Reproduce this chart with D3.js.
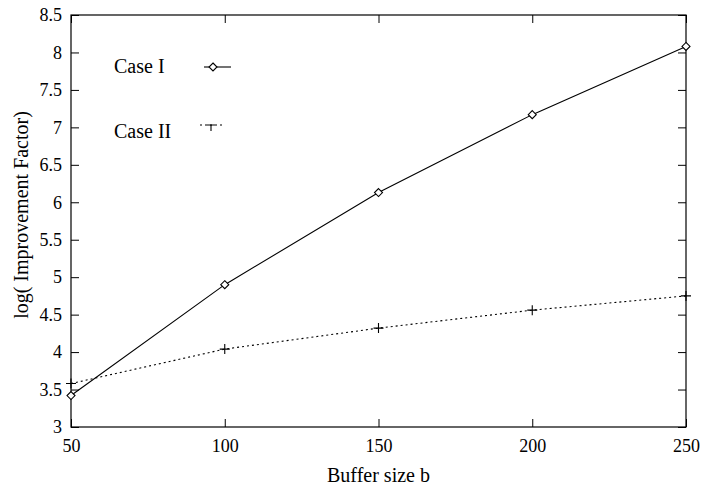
<!DOCTYPE html>
<html>
<head>
<meta charset="utf-8">
<script src="https://d3js.org/d3.v7.min.js"></script>
<style>
  body { margin: 0; background: #fff; }
  svg text { font-family: "Times New Roman", Times, "Liberation Serif", Tinos, "Nimbus Roman", "DejaVu Serif", "Noto Serif", serif !important; fill: #000; }
</style>
</head>
<body>
<div id="chart"></div>
<script>
var bufferSizes = [50, 100, 150, 200, 250];
var caseI = [3.42, 4.90, 6.13, 7.17, 8.08];
var caseII = [3.58, 4.04, 4.32, 4.56, 4.75];
var xTicks = [50, 100, 150, 200, 250];
var yTicks = [3, 3.5, 4, 4.5, 5, 5.5, 6, 6.5, 7, 7.5, 8, 8.5];

var width = 701, height = 486;
var margin = { top: 15, right: 15, bottom: 59, left: 71 };
var w = width - margin.left - margin.right,
    h = height - margin.top - margin.bottom;

var svg = d3.select("#chart").append("svg")
   .attr("width", width)
   .attr("height", height);

var g = svg.append("g")
   .attr("transform", "translate(" + margin.left + "," + margin.top + ")");

var xScale = d3.scaleLinear().domain([50, 250]).range([0, w]);
var yScale = d3.scaleLinear().domain([3, 8.5]).range([h, 0]);

// frame
g.append("rect")
   .attr("width", w).attr("height", h)
   .attr("fill", "none").attr("stroke", "#000").attr("stroke-width", 1.2);

// inward ticks on all sides, labels bottom/left
var xAxis = d3.axisBottom(xScale).tickValues(xTicks).tickSizeInner(-8).tickSizeOuter(0)
   .tickPadding(12).tickFormat(d3.format("d"));
var yAxis = d3.axisLeft(yScale).tickValues(yTicks).tickSizeInner(-8).tickSizeOuter(0)
   .tickPadding(9).tickFormat(function(d) { return String(d); });

g.append("g").attr("transform", "translate(0," + h + ")").call(xAxis);
g.append("g").call(yAxis);
g.append("g").call(d3.axisTop(xScale).tickValues(xTicks).tickSizeInner(-8).tickSizeOuter(0).tickFormat(""));
g.append("g").attr("transform", "translate(" + w + ",0)")
   .call(d3.axisRight(yScale).tickValues(yTicks).tickSizeInner(-8).tickSizeOuter(0).tickFormat(""));

g.selectAll(".domain").remove();
g.selectAll(".tick line").attr("stroke", "#000");
g.selectAll("g").attr("font-family", null);
g.selectAll(".tick text").style("font-size", "18px");

var seriesI = bufferSizes.map(function(b, i) { return [b, caseI[i]]; });
var seriesII = bufferSizes.map(function(b, i) { return [b, caseII[i]]; });

var line = d3.line()
   .x(function(d) { return xScale(d[0]); })
   .y(function(d) { return yScale(d[1]); });

g.append("path").datum(seriesI)
   .attr("d", line).attr("fill", "none").attr("stroke", "#000").attr("stroke-width", 1.1);
g.append("path").datum(seriesII)
   .attr("d", line).attr("fill", "none").attr("stroke", "#000").attr("stroke-width", 1.1)
   .attr("stroke-dasharray", "2,3");

function diamond(sel) {
  sel.attr("d", "M0,-4L4,0L0,4L-4,0Z").attr("fill", "#fff").attr("stroke", "#000").attr("stroke-width", 1.1);
}
function plus(sel) {
  sel.attr("d", "M-5,0H5M0,-5V5").attr("fill", "none").attr("stroke", "#000").attr("stroke-width", 1.1);
}

g.selectAll(".ptI").data(seriesI).enter().append("path")
   .attr("class", "ptI")
   .attr("transform", function(d) { return "translate(" + xScale(d[0]) + "," + yScale(d[1]) + ")"; })
   .call(diamond);
g.selectAll(".ptII").data(seriesII).enter().append("path")
   .attr("class", "ptII")
   .attr("transform", function(d) { return "translate(" + xScale(d[0]) + "," + yScale(d[1]) + ")"; })
   .call(plus);

// legend
svg.append("text").attr("x", 114).attr("y", 73).style("font-size", "20px").text("Case I");
svg.append("line").attr("x1", 204).attr("x2", 231).attr("y1", 67).attr("y2", 67)
   .attr("stroke", "#000").attr("stroke-width", 1.1);
svg.append("path").attr("transform", "translate(213,67)").call(diamond);

svg.append("text").attr("x", 114).attr("y", 138).style("font-size", "20px").text("Case II");
svg.append("line").attr("x1", 200).attr("x2", 225).attr("y1", 125).attr("y2", 125)
   .attr("stroke", "#000").attr("stroke-width", 1.1).attr("stroke-dasharray", "2,3");
svg.append("path").attr("d", "M207,125H215M211,125V131")
   .attr("stroke", "#000").attr("stroke-width", 1.1).attr("fill", "none");

// axis titles
svg.append("text")
   .attr("text-anchor", "middle")
   .attr("x", margin.left + w / 2)
   .attr("y", 482)
   .style("font-size", "20px")
   .text("Buffer size b");
svg.append("text")
   .attr("text-anchor", "middle")
   .attr("transform", "translate(28," + (margin.top + h / 2 - 6) + ")rotate(-90)")
   .style("font-size", "20px")
   .text("log( Improvement Factor)");
</script>
</body>
</html>
